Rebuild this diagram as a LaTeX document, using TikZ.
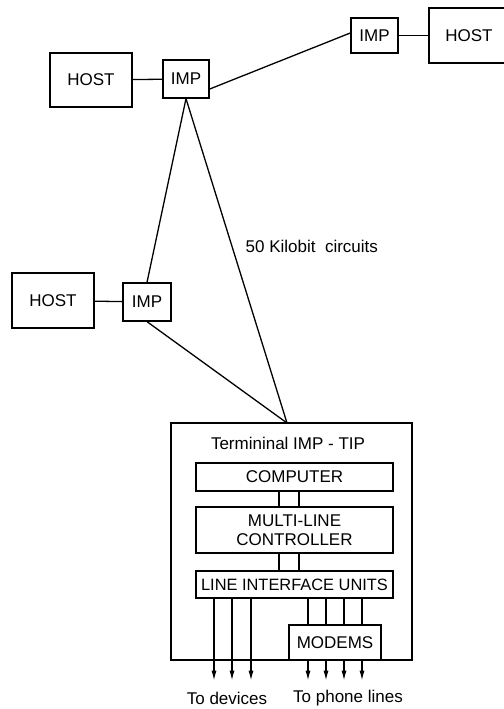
\documentclass[tikz,border=0pt]{standalone}
\usepackage{fontspec}
\setmainfont{Liberation Sans}
\usetikzlibrary{arrows.meta}
\begin{document}
\begin{tikzpicture}[x=1pt,y=-1pt,line width=1.3pt,
  box/.style={draw,rectangle,inner sep=0pt,align=center,font=\fontsize{17}{19}\selectfont},
  lbl/.style={inner sep=0pt,font=\fontsize{17}{19}\selectfont},
  outarrow/.style={-{Latex[length=10pt,width=5pt]}}]
\useasboundingbox (0,0) rectangle (503,709);
% network
\node[box,minimum width=82pt,minimum height=54pt] (host1) at (91,80) {HOST};
\node[box,minimum width=46pt,minimum height=38pt] (imp1) at (186,79) {IMP};
\node[box,minimum width=47pt,minimum height=35pt] (imp2) at (374.5,35.5) {IMP};
\node[box,minimum width=80pt,minimum height=55pt] (host2) at (469,35.5) {HOST};
\node[box,minimum width=82pt,minimum height=55pt] (host3) at (53,300.5) {HOST};
\node[box,minimum width=48pt,minimum height=38pt] (imp3) at (147,302) {IMP};
\node[lbl,anchor=west] (rate) at (245,246) {50 Kilobit\ \ circuits};
% TIP
\node[draw,rectangle,inner sep=0pt,minimum width=241pt,minimum height=237pt] (tip) at (291.5,541.5) {};
\coordinate (tipin) at (287,423);
\node[lbl] (tiptitle) at (288,443) {Termininal IMP - TIP};
\node[box,minimum width=197pt,minimum height=28pt] (comp) at (294.5,477) {COMPUTER};
\node[box,minimum width=197pt,minimum height=46pt] (mlc) at (294.5,530) {MULTI-LINE\\CONTROLLER};
\node[box,minimum width=197pt,minimum height=27pt,font=\fontsize{16.4}{19}\selectfont] (liu) at (294.5,584.5) {LINE INTERFACE UNITS};
\node[box,minimum width=92pt,minimum height=35pt] (modems) at (335,642.5) {MODEMS};
\node[lbl] (dev) at (227,698) {To devices};
\node[lbl] (phone) at (348,698) {To phone lines};
% links
\draw (host1) -- (imp1);
\draw (imp1.-23) -- (imp2.174);
\draw (imp2) -- (host2);
\draw (host3) -- (imp3);
\draw (imp1.south) -- (imp3.north);
\draw (imp1.south) -- (tipin);
\draw (imp3.south) -- (tipin);
\foreach \dx in {-15.5,4.5} {
  \draw ([xshift=\dx pt]comp.south) -- ([xshift=\dx pt]mlc.north);
  \draw ([xshift=\dx pt]mlc.south) -- ([xshift=\dx pt]liu.north);
}
\foreach \dx in {-80.5,-62.5,-43.5} {
  \draw[outarrow] ([xshift=\dx pt]liu.south) -- ++(0,82);
}
\foreach \dx in {-27,-9,9,27} {
  \draw ([xshift=\dx pt]modems.north|-liu.south) -- ([xshift=\dx pt]modems.north);
  \draw[outarrow] ([xshift=\dx pt]modems.south) -- ++(0,20);
}
\end{tikzpicture}
\end{document}
